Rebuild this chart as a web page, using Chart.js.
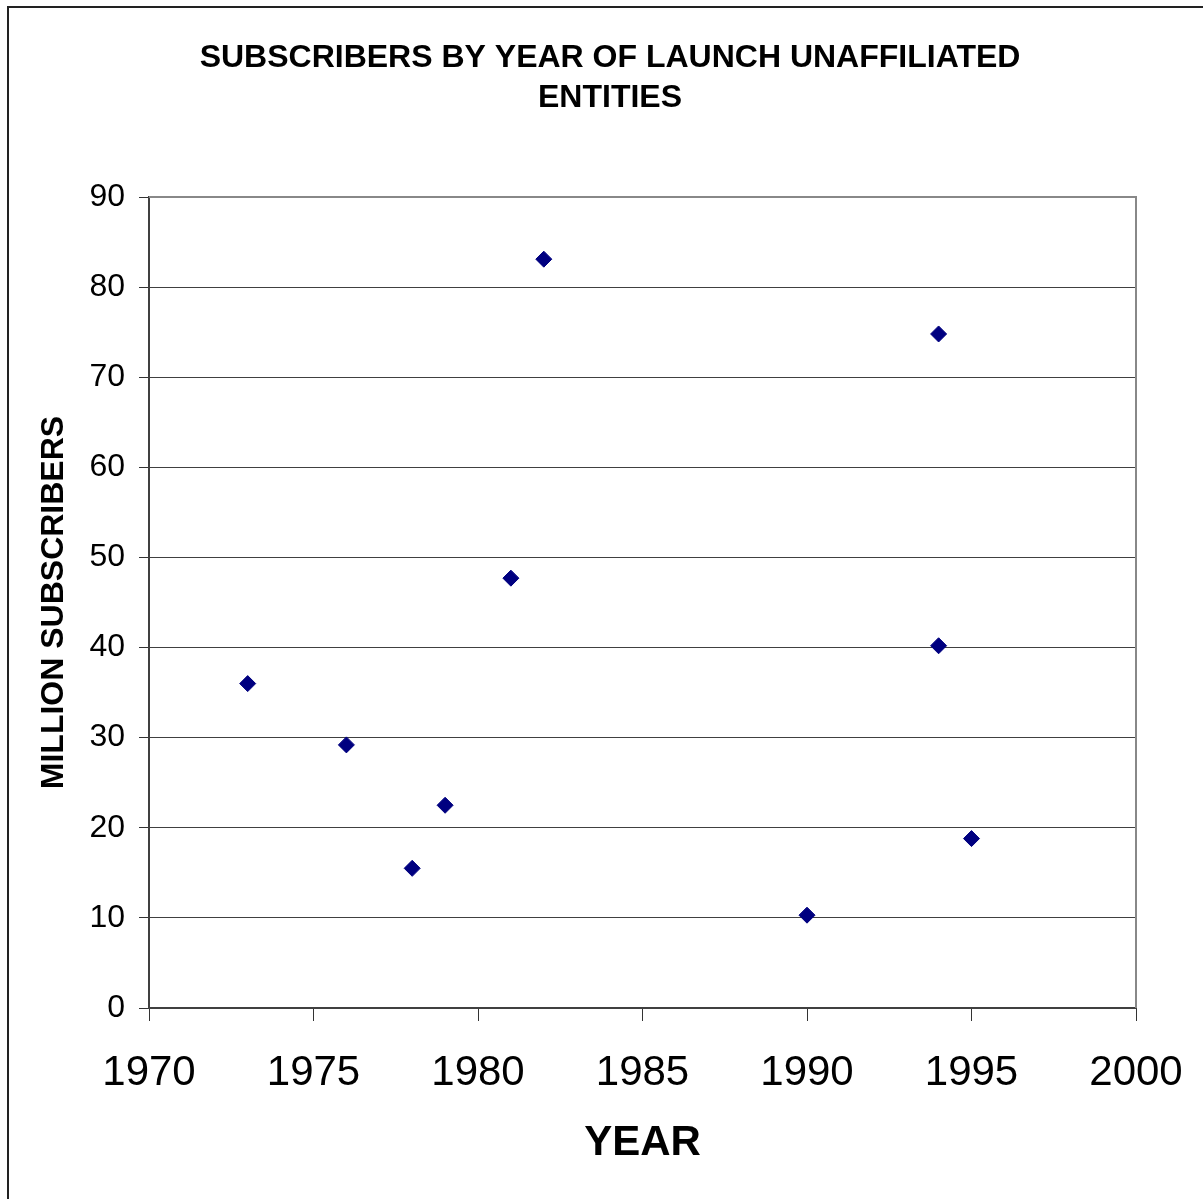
<!DOCTYPE html>
<html>
<head>
<meta charset="utf-8">
<title>Subscribers by Year of Launch</title>
<script src="https://cdn.jsdelivr.net/npm/chart.js@4"></script>
<style>
  html, body { margin: 0; padding: 0; background: #ffffff; overflow: hidden; }
  canvas { display: block; }
</style>
</head>
<body>
<canvas id="chart" width="1203" height="1199"></canvas>
<script>
// Launch year and subscriber count (millions) for unaffiliated entities
const launchYears = [1973, 1976, 1978, 1979, 1981, 1982, 1990, 1994, 1994, 1995];
const subscribers = [36.0, 29.2, 15.5, 22.5, 47.7, 83.1, 10.3, 74.8, 40.2, 18.8];

const titleLines = ['SUBSCRIBERS BY YEAR OF LAUNCH UNAFFILIATED', 'ENTITIES'];
const xAxisTitle = 'YEAR';
const yAxisTitle = 'MILLION SUBSCRIBERS';

const FONT = '"Liberation Sans", Arial, Helvetica, sans-serif';

const points = launchYears.map((yr, i) => ({ x: yr, y: subscribers[i] }));

// Page frame, plot background and the grey plot border on top/right
const framePlugin = {
  id: 'frame',
  beforeDraw(chart) {
    const { ctx, width, height } = chart;
    ctx.save();
    ctx.fillStyle = '#ffffff';
    ctx.fillRect(0, 0, width, height);
    ctx.strokeStyle = '#222222';
    ctx.lineWidth = 2;
    ctx.beginPath();
    ctx.moveTo(8, height + 2);
    ctx.lineTo(8, 7);
    ctx.lineTo(width + 2, 7);
    ctx.stroke();
    ctx.restore();
  },
  beforeDatasetsDraw(chart) {
    const { ctx, chartArea: a } = chart;
    ctx.save();
    ctx.strokeStyle = '#888888';
    ctx.lineWidth = 2;
    ctx.beginPath();
    ctx.moveTo(a.left, a.top);
    ctx.lineTo(a.right, a.top);
    ctx.lineTo(a.right, a.bottom);
    ctx.stroke();
    ctx.restore();
  }
};

new Chart(document.getElementById('chart'), {
  type: 'scatter',
  data: {
    datasets: [{
      data: points,
      pointStyle: 'rectRot',
      pointRadius: 8,
      pointHoverRadius: 8,
      pointBackgroundColor: '#000080',
      pointBorderColor: '#000080',
      pointBorderWidth: 1
    }]
  },
  options: {
    responsive: false,
    animation: false,
    layout: { padding: { left: 17, top: 0, right: 0, bottom: 0 } },
    plugins: {
      legend: { display: false },
      tooltip: { enabled: false },
      title: {
        display: true,
        text: titleLines,
        color: '#000000',
        font: { family: FONT, size: 32, weight: 'bold', lineHeight: '40px' },
        padding: { top: 38, bottom: 79 }
      }
    },
    scales: {
      x: {
        type: 'linear',
        min: 1970,
        max: 2000,
        afterFit(scale) {
          scale.height = 191;
          scale.paddingLeft = 0;
          scale.paddingRight = 67;
        },
        ticks: {
          stepSize: 5,
          color: '#000000',
          padding: 27,
          maxRotation: 0,
          font: { family: FONT, size: 42 },
          callback: (v) => String(v)
        },
        grid: {
          drawOnChartArea: false,
          drawTicks: true,
          tickLength: 13,
          tickColor: '#333333',
          lineWidth: 1
        },
        border: { display: true, color: '#404040', width: 2 },
        title: {
          display: true,
          text: xAxisTitle,
          color: '#000000',
          font: { family: FONT, size: 42, weight: 'bold' },
          padding: { top: 0, bottom: 30 }
        }
      },
      y: {
        type: 'linear',
        min: 0,
        max: 90,
        afterFit(scale) { scale.width = 132; },
        ticks: {
          stepSize: 10,
          color: '#000000',
          padding: 14,
          font: { family: FONT, size: 32 }
        },
        grid: {
          color: '#404040',
          lineWidth: 1,
          drawTicks: true,
          tickLength: 10,
          tickColor: '#333333'
        },
        border: { display: true, color: '#404040', width: 2 },
        title: {
          display: true,
          text: yAxisTitle,
          color: '#000000',
          font: { family: FONT, size: 32, weight: 'bold' },
          padding: { top: 18, bottom: 0 }
        }
      }
    }
  },
  plugins: [framePlugin]
});
</script>
</body>
</html>
